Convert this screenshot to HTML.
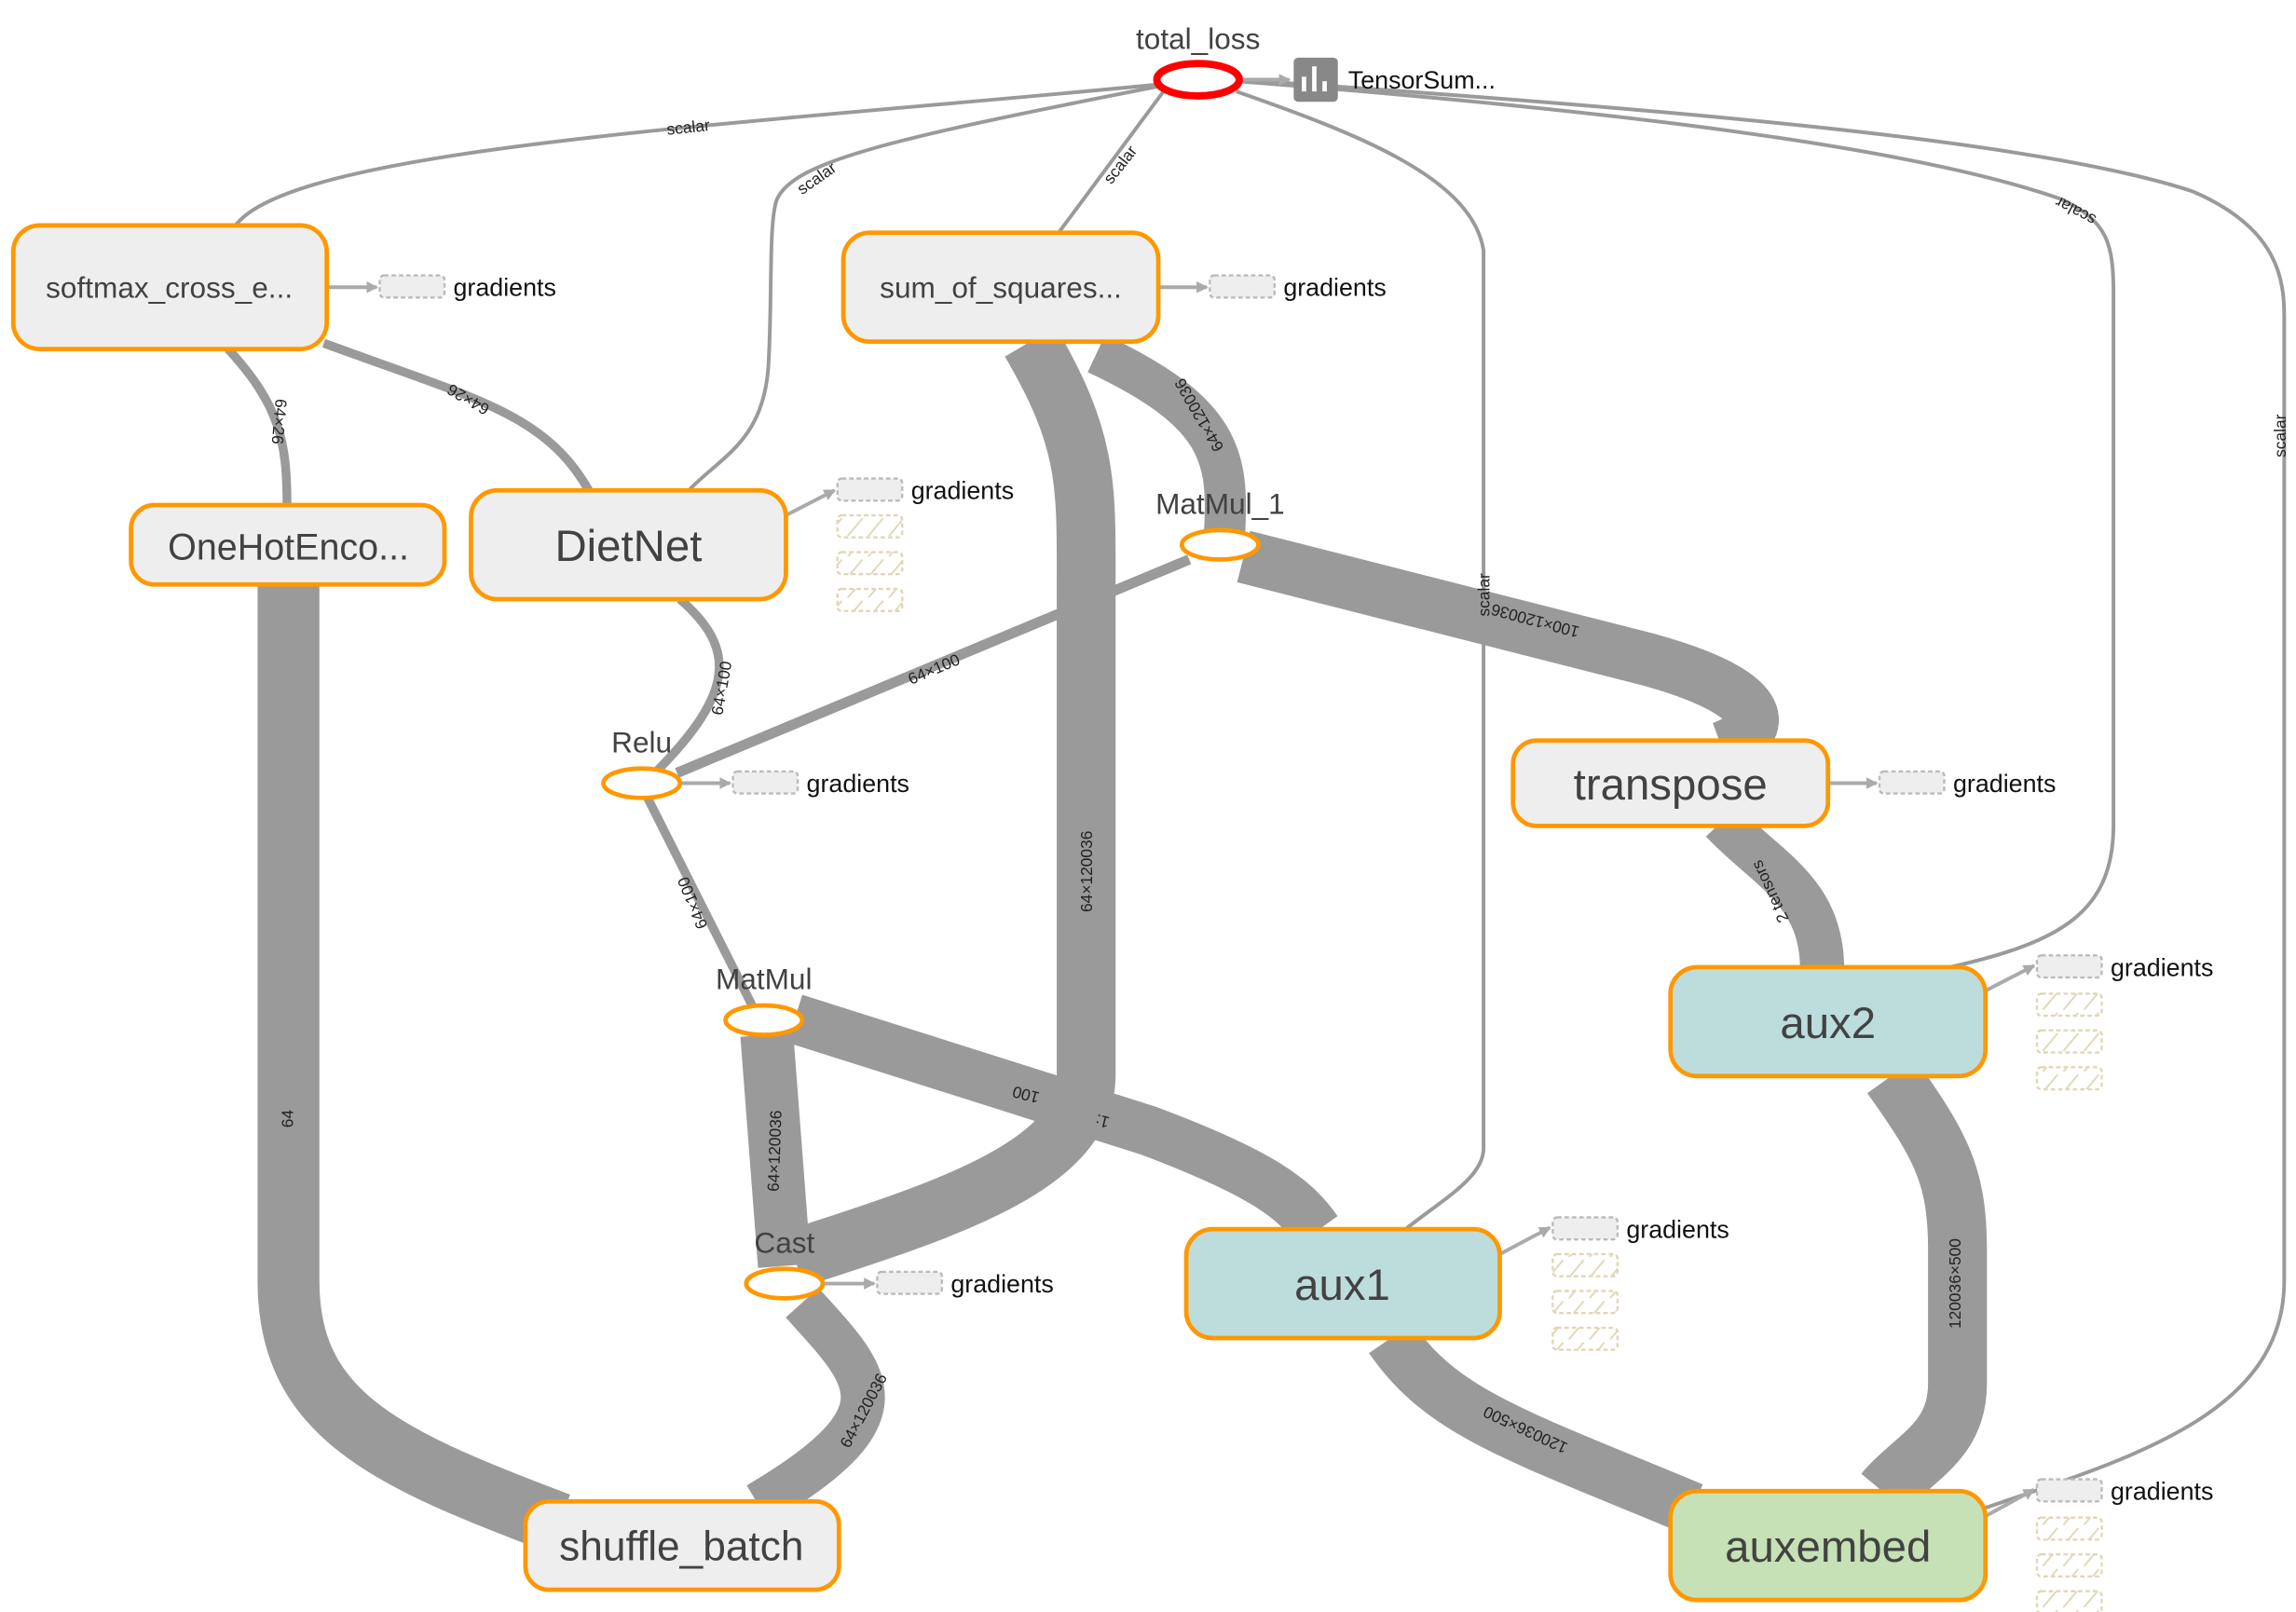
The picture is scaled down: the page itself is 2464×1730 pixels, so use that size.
<!DOCTYPE html>
<html><head><meta charset="utf-8"><style>html,body{margin:0;padding:0;background:#fff;}svg{display:block}</style></head>
<body>
<svg width="2464" height="1730" viewBox="0 0 1560 1095" xmlns="http://www.w3.org/2000/svg" font-family="Liberation Sans, sans-serif">
<defs>
<marker id="ar" markerWidth="8" markerHeight="8" refX="7" refY="4" orient="auto" markerUnits="userSpaceOnUse"><path d="M0,0 L8,4 L0,8 Z" fill="#aaa"/></marker>
<pattern id="hatch" width="14" height="14" patternUnits="userSpaceOnUse"><path d="M2,14 L12,2" stroke="#e0d6b8" stroke-width="1.2"/></pattern>
</defs>
<g fill="none" stroke="#9a9a9a" stroke-linecap="butt">
<path d="M196,397 L196,870 C196,960 260,990 380,1035" stroke-width="42"/>
<path d="M545,885 C590,935 620,960 515,1022" stroke-width="30"/>
<path d="M700,232 C740,300 738,330 738,400 L738,730 C738,790 650,820 540,855" stroke-width="40"/>
<path d="M745,240 C830,280 835,310 832,362" stroke-width="28"/>
<path d="M845,378 L1120,448 C1200,470 1205,495 1170,508" stroke-width="36"/>
<path d="M540,692 L780,768 C860,798 880,815 895,836" stroke-width="34"/>
<path d="M521,703 L533,860" stroke-width="36"/>
<path d="M1170,558 C1200,590 1238,605 1238,658" stroke-width="30"/>
<path d="M1285,731 C1320,780 1330,800 1330,850 L1330,940 C1330,980 1300,990 1280,1014" stroke-width="40"/>
<path d="M945,909 C980,960 1030,975 1150,1025" stroke-width="36"/>
<path d="M220,233 C320,270 370,280 400,333" stroke-width="6"/>
<path d="M155,237 C190,275 195,300 195,343" stroke-width="6"/>
<path d="M462,407 C500,440 500,470 445,525" stroke-width="6"/>
<path d="M808,380 L460,525" stroke-width="7"/>
<path d="M440,542 L512,685" stroke-width="6"/>
<g stroke-width="2.5">
<path d="M790,57 C500,85 200,100 160,153"/>
<path d="M790,58 C600,95 540,110 528,135 C522,150 525,200 522,250 C518,300 490,310 468,333"/>
<path d="M792,60 L720,157"/>
<path d="M840,62 C920,90 1000,120 1008,170 L1008,780 C1008,800 980,815 955,835"/>
<path d="M840,55 C1100,75 1300,100 1400,135 C1432,150 1436,165 1436,200 L1436,560 C1436,620 1400,640 1325,657"/>
<path d="M840,54 C1200,78 1400,100 1490,130 C1548,155 1552,190 1552,215 L1552,870 C1552,960 1450,990 1347,1025"/>
</g>
<g stroke="#aaa" stroke-width="2.5">
<path d="M842,54 L876,54" marker-end="url(#ar)"/>
<path d="M222,195 L256,195" marker-end="url(#ar)"/>
<path d="M787,195 L820,195" marker-end="url(#ar)"/>
<path d="M534,350 L567,333" marker-end="url(#ar)"/>
<path d="M463,532 L496,532" marker-end="url(#ar)"/>
<path d="M1242,532 L1275,532" marker-end="url(#ar)"/>
<path d="M1349,673 L1382,656" marker-end="url(#ar)"/>
<path d="M560,872 L594,872" marker-end="url(#ar)"/>
<path d="M1019,852 L1053,834" marker-end="url(#ar)"/>
<path d="M1349,1030 L1382,1012" marker-end="url(#ar)"/>
</g>
</g>
<g font-size="11" fill="#222">
<text x="468" y="90" transform="rotate(-6 468 90)" text-anchor="middle">scalar</text>
<text x="557" y="124" transform="rotate(-35 557 124)" text-anchor="middle">scalar</text>
<text x="764" y="114" transform="rotate(-52 764 114)" text-anchor="middle">scalar</text>
<text x="1412" y="140" transform="rotate(208 1412 140)" text-anchor="middle">scalar</text>
<text x="1553" y="296" transform="rotate(-90 1553 296)" text-anchor="middle">scalar</text>
<text x="1012" y="404" transform="rotate(-90 1012 404)" text-anchor="middle">scalar</text>
<text x="186" y="286" transform="rotate(95 186 286)" text-anchor="middle">64×26</text>
<text x="320" y="268" transform="rotate(210 320 268)" text-anchor="middle">64×26</text>
<text x="494" y="468" transform="rotate(-80 494 468)" text-anchor="middle">64×100</text>
<text x="636" y="458" transform="rotate(-23 636 458)" text-anchor="middle">64×100</text>
<text x="474" y="612" transform="rotate(248 474 612)" text-anchor="middle">64×100</text>
<text x="818" y="280" transform="rotate(240 818 280)" text-anchor="middle">64×120036</text>
<text x="742" y="592" transform="rotate(-90 742 592)" text-anchor="middle">64×120036</text>
<text x="530" y="782" transform="rotate(-88 530 782)" text-anchor="middle">64×120036</text>
<text x="590" y="960" transform="rotate(-62 590 960)" text-anchor="middle">64×120036</text>
<text x="1044" y="418" transform="rotate(195 1044 418)" text-anchor="middle">100×120036</text>
<text x="698" y="740" transform="rotate(195 698 740)" text-anchor="middle">100</text>
<text x="750" y="758" transform="rotate(195 750 758)" text-anchor="middle">1:</text>
<text x="199" y="760" transform="rotate(-90 199 760)" text-anchor="middle">64</text>
<text x="1206" y="604" transform="rotate(245 1206 604)" text-anchor="middle">2 tensors</text>
<text x="1332" y="872" transform="rotate(-90 1332 872)" text-anchor="middle">120036×500</text>
<text x="1038" y="968" transform="rotate(205 1038 968)" text-anchor="middle">120036×500</text>
</g>
<g stroke="#ff9800" stroke-width="3">
<rect x="9" y="153" width="213" height="84" rx="18" fill="#eee"/>
<rect x="573" y="158" width="214" height="74" rx="18" fill="#eee"/>
<rect x="89" y="343" width="213" height="54" rx="16" fill="#eee"/>
<rect x="320" y="333" width="214" height="74" rx="18" fill="#eee"/>
<rect x="1028" y="503" width="214" height="58" rx="16" fill="#eee"/>
<rect x="1135" y="657" width="214" height="74" rx="18" fill="#bddcdc"/>
<rect x="806" y="835" width="213" height="74" rx="18" fill="#bddcdc"/>
<rect x="357" y="1020" width="213" height="60" rx="16" fill="#eee"/>
<rect x="1135" y="1013" width="214" height="74" rx="18" fill="#c5e1b5"/>
<ellipse cx="829" cy="370" rx="26" ry="10" fill="#fff"/>
<ellipse cx="436" cy="532" rx="26" ry="10" fill="#fff"/>
<ellipse cx="519" cy="693" rx="26" ry="10" fill="#fff"/>
<ellipse cx="533" cy="872" rx="26" ry="10" fill="#fff"/>
</g>
<ellipse cx="814" cy="54" rx="28" ry="11" fill="#fff" stroke="#f00" stroke-width="5"/>
<rect x="879" y="39" width="30" height="30" rx="3" fill="#888"/>
<path d="M886,62 V52 M893,62 V45 M900,62 V55" stroke="#fff" stroke-width="3"/>
<g fill="#424242" text-anchor="middle">
<text x="115" y="202" font-size="20">softmax_cross_e...</text>
<text x="680" y="202" font-size="20">sum_of_squares...</text>
<text x="196" y="380" font-size="25">OneHotEnco...</text>
<text x="427" y="381" font-size="30">DietNet</text>
<text x="1135" y="543" font-size="30">transpose</text>
<text x="1242" y="705" font-size="30">aux2</text>
<text x="912" y="883" font-size="30">aux1</text>
<text x="463" y="1060" font-size="28">shuffle_batch</text>
<text x="1242" y="1061" font-size="30">auxembed</text>
<text x="814" y="33" font-size="20">total_loss</text>
<text x="829" y="349" font-size="20">MatMul_1</text>
<text x="436" y="511" font-size="20">Relu</text>
<text x="519" y="672" font-size="20">MatMul</text>
<text x="533" y="851" font-size="20">Cast</text>
</g>
<g font-size="17" fill="#111">
<text x="916" y="60">TensorSum...</text>
<text x="308" y="201">gradients</text>
<text x="872" y="201">gradients</text>
<text x="619" y="339">gradients</text>
<text x="548" y="538">gradients</text>
<text x="1327" y="538">gradients</text>
<text x="1434" y="663">gradients</text>
<text x="646" y="878">gradients</text>
<text x="1105" y="841">gradients</text>
<text x="1434" y="1019">gradients</text>
</g>
<g stroke="#bbb" stroke-width="1.5" stroke-dasharray="3,2" fill="#eee">
<rect x="258" y="187" width="44" height="15" rx="3"/>
<rect x="822" y="187" width="44" height="15" rx="3"/>
<rect x="569" y="325" width="44" height="15" rx="3"/>
<rect x="498" y="524" width="44" height="15" rx="3"/>
<rect x="1277" y="524" width="44" height="15" rx="3"/>
<rect x="1384" y="649" width="44" height="15" rx="3"/>
<rect x="596" y="864" width="44" height="15" rx="3"/>
<rect x="1055" y="827" width="44" height="15" rx="3"/>
<rect x="1384" y="1005" width="44" height="15" rx="3"/>
</g>
<g stroke="#e0d6b8" stroke-width="1.5" stroke-dasharray="3,2" fill="url(#hatch)">
<rect x="569" y="350" width="44" height="15" rx="3"/><rect x="569" y="375" width="44" height="15" rx="3"/><rect x="569" y="400" width="44" height="15" rx="3"/>
<rect x="1384" y="675" width="44" height="15" rx="3"/><rect x="1384" y="700" width="44" height="15" rx="3"/><rect x="1384" y="725" width="44" height="15" rx="3"/>
<rect x="1055" y="852" width="44" height="15" rx="3"/><rect x="1055" y="877" width="44" height="15" rx="3"/><rect x="1055" y="902" width="44" height="15" rx="3"/>
<rect x="1384" y="1031" width="44" height="15" rx="3"/><rect x="1384" y="1056" width="44" height="15" rx="3"/><rect x="1384" y="1081" width="44" height="15" rx="3"/>
</g>
</svg>
</body></html>
